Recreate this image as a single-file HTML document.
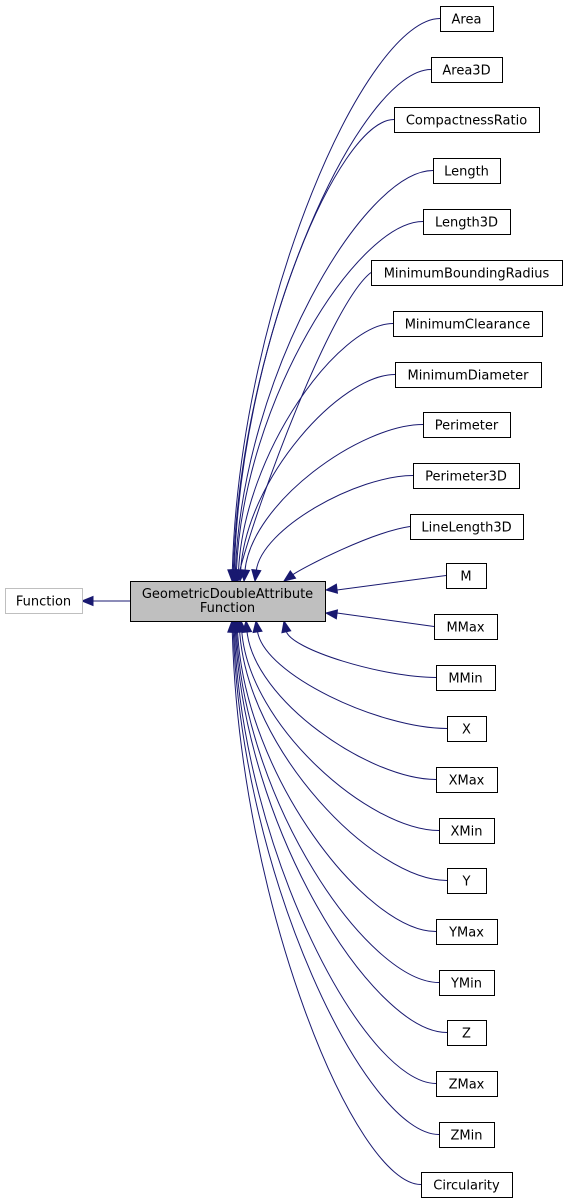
<!DOCTYPE html>
<html><head><meta charset="utf-8"><style>
html,body{margin:0;padding:0;background:#fff;}
svg{display:block;}
text{font-family:"DejaVu Sans","Liberation Sans",sans-serif;font-size:13px;fill:#000;}
</style></head><body>
<svg id="s" width="567" height="1203" viewBox="0 0 567 1203" xmlns="http://www.w3.org/2000/svg">
<g id="edges" fill="none" stroke="#191970" stroke-width="1"></g>
<g id="heads" fill="#191970" stroke="#191970"></g>
<g id="nodes"></g>
</svg>
<script>
var NS="http://www.w3.org/2000/svg";
var nodes=[
["Area",440,6,53,-1,232],["Area3D",431,57,71,-1,233],["CompactnessRatio",394,107,145,-1,234],
["Length",433,158,67,-1,235],["Length3D",423,209,87,-1,236],["MinimumBoundingRadius",371,260,191,-1,237],
["MinimumClearance",393,311,149,-1,238],["MinimumDiameter",395,362,146,-1,240],["Perimeter",423,412,87,-1,244],
["Perimeter3D",413,463,106,-1,255],["LineLength3D",410,514,113,-1,284],
["M",446,563,40,0,0],["MMax",434,614,63,0,1],
["MMin",436,665,59,1,284],["X",447,716,39,1,256],["XMax",436,767,61,1,246],["XMin",439,818,55,1,241],
["Y",447,868,39,1,239],["YMax",436,919,61,1,237],["YMin",439,970,55,1,236],["Z",447,1020,39,1,235],
["ZMax",436,1071,61,1,234],["ZMin",439,1122,55,1,233],["Circularity",421,1172,91,1,232]];
function el(t,a,p,txt){var e=document.createElementNS(NS,t);for(var k in a)e.setAttribute(k,a[k]);if(txt)e.textContent=txt;document.getElementById(p).appendChild(e);return e;}
function head(tx,ty,dx,dy){var l=Math.hypot(dx,dy);dx/=l;dy/=l;var L=11,W=4.5;var bx=tx-dx*L,by=ty-dy*L;
el("polygon",{points:tx+","+ty+" "+(bx-dy*W)+","+(by+dx*W)+" "+(bx+dy*W)+","+(by-dx*W)},"heads");}
function box(x,y,w,h,label,fill,stroke,lines){el("rect",{x:x+0.5,y:y+0.5,width:w,height:h,fill:fill,stroke:stroke},"nodes");
if(lines){el("text",{x:x+w/2,y:y+17,"text-anchor":"middle"},"nodes",lines[0]);el("text",{x:x+w/2,y:y+31,"text-anchor":"middle"},"nodes",lines[1]);}
else el("text",{x:x+w/2,y:y+h/2+5,"text-anchor":"middle"},"nodes",label);}
el("path",{d:"M130,601 L92,601"},"edges");head(82,601,-1,0);
nodes.forEach(function(n){var x=n[1],yc=n[2]+12.5,side=n[4],tx=n[5];
 if(side==0){var ty=tx==0?590:613;el("path",{d:"M"+x+","+yc+" L337,"+ty},"edges");head(326,ty,326-x,ty-yc);return;}
 var ty=side<0?581:621;var dx=x-tx;var near=dx<140;
 var c1x=x-dx*0.35,c1y=yc;var c2x=tx+dx*(near?0.15:0.04),c2y=ty+(yc-ty)*(near?0.25:0.5);
 if(near){c1x=x-dx*0.3;c1y=yc+(ty-yc)*0.1;}
 var ex=tx,ey=ty;var ddx=ex-c2x,ddy=ey-c2y;var l=Math.hypot(ddx,ddy);
 var lx=ex-ddx/l*10,ly=ey-ddy/l*10;
 el("path",{d:"M"+x+","+yc+" C"+c1x+","+c1y+" "+c2x+","+c2y+" "+lx+","+ly},"edges");
 head(ex,ey,ddx,ddy);});
box(5,588,77,25,"Function","#fff","#bfbfbf");
box(130,581,195,40,"","#bfbfbf","#000",["GeometricDoubleAttribute","Function"]);
nodes.forEach(function(n){box(n[1],n[2],n[3],25,n[0],"#fff","#000");});
</script>
</body></html>
